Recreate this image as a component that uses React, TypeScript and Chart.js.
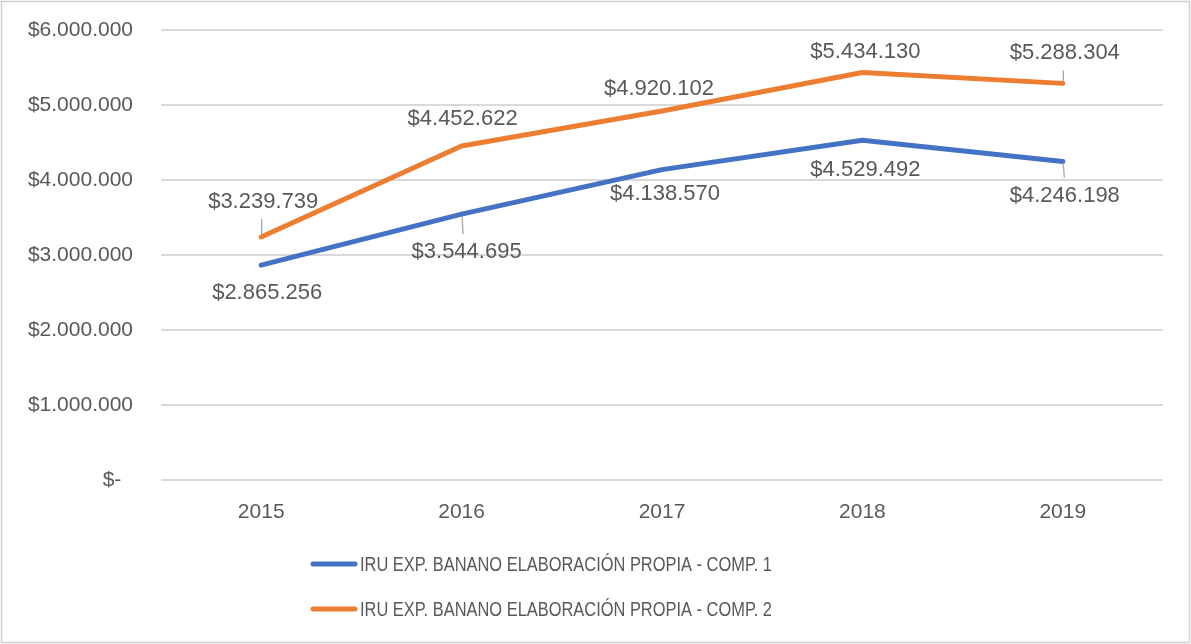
import { useEffect, useRef } from "react";
import { Chart, registerables } from "chart.js";

Chart.register(...registerables);

const years = ["2015", "2016", "2017", "2018", "2019"];
const comp1 = [2865256, 3544695, 4138570, 4529492, 4246198];
const comp2 = [3239739, 4452622, 4920102, 5434130, 5288304];
const seriesNames = [
  "IRU EXP. BANANO ELABORACIÓN PROPIA - COMP. 1",
  "IRU EXP. BANANO ELABORACIÓN PROPIA - COMP. 2",
];
const yMin = 0;
const yMax = 6000000;
const yStep = 1000000;

const BLUE = "#4472C4";
const ORANGE = "#ED7D31";
const TEXT = "#595959";
const GRID = "#d9d9d9";
const FONT = "'Liberation Sans', Arial, sans-serif";

// label placement relative to each point (style config, not data)
const LABEL_LAYOUT = [
  [
    { dx: 6, dy: 28, leader: false },
    { dx: 5, dy: 38, leader: true },
    { dx: 3, dy: 24, leader: false },
    { dx: 3, dy: 30, leader: false },
    { dx: 2, dy: 34, leader: true },
  ],
  [
    { dx: 2, dy: -35, leader: true },
    { dx: 1, dy: -27, leader: false },
    { dx: -3, dy: -22, leader: false },
    { dx: 3, dy: -21, leader: false },
    { dx: 2, dy: -30, leader: true },
  ],
];

const fmt = (v: number) =>
  v === 0
    ? "$-  "
    : "$" + Math.round(v).toString().replace(/\B(?=(\d{3})+(?!\d))/g, ".");

const framePlugin = {
  id: "frame",
  beforeDraw(chart: any) {
    const ctx = chart.ctx;
    ctx.save();
    ctx.fillStyle = "#ffffff";
    ctx.fillRect(0, 0, chart.width, chart.height);
    ctx.restore();
  },
  afterDraw(chart: any) {
    const ctx = chart.ctx;
    ctx.save();
    ctx.strokeStyle = "#d0d0d0";
    ctx.lineWidth = 1.5;
    ctx.strokeRect(1.5, 1.5, chart.width - 3, chart.height - 3);
    ctx.restore();
  },
};

const dataLabelPlugin = {
  id: "dataLabels",
  afterDatasetsDraw(chart: any) {
    const ctx = chart.ctx;
    ctx.save();
    chart.data.datasets.forEach((ds: any, di: number) => {
      const meta = chart.getDatasetMeta(di);
      meta.data.forEach((pt: any, i: number) => {
        const lay = LABEL_LAYOUT[di][i];
        const x = pt.x + lay.dx;
        const y = pt.y + lay.dy;
        if (lay.leader) {
          const above = lay.dy < 0;
          const endY = y + (above ? 17 : -18);
          ctx.beginPath();
          ctx.strokeStyle = "#a6a6a6";
          ctx.lineWidth = 1.3;
          ctx.moveTo(pt.x + 0.5, pt.y + (above ? -2 : 2));
          ctx.lineTo(pt.x + 0.5 + (above ? 0 : 1), endY);
          ctx.stroke();
        }
        ctx.fillStyle = TEXT;
        ctx.font = `22px ${FONT}`;
        ctx.textAlign = "center";
        ctx.textBaseline = "middle";
        ctx.fillText(fmt(ds.data[i]), x, y);
      });
    });
    ctx.restore();
  },
};

const legendPlugin = {
  id: "customLegend",
  afterDraw(chart: any) {
    const ctx = chart.ctx;
    ctx.save();
    chart.data.datasets.forEach((ds: any, di: number) => {
      const y = 564 + di * 45;
      ctx.beginPath();
      ctx.strokeStyle = ds.borderColor;
      ctx.lineWidth = 5;
      ctx.lineCap = "round";
      ctx.moveTo(313, y);
      ctx.lineTo(355, y);
      ctx.stroke();
      ctx.fillStyle = TEXT;
      ctx.font = `20px ${FONT}`;
      ctx.textAlign = "left";
      ctx.textBaseline = "middle";
      ctx.fillText(ds.label, 360, y + 1, 412);
    });
    ctx.restore();
  },
};

export default function App() {
  const canvasRef = useRef<HTMLCanvasElement | null>(null);

  useEffect(() => {
    document.body.style.margin = "0";
    const canvas = canvasRef.current;
    if (!canvas) return;
    const chart = new Chart(canvas, {
      type: "line",
      data: {
        labels: years,
        datasets: [
          {
            label: seriesNames[0],
            data: comp1,
            borderColor: BLUE,
            backgroundColor: BLUE,
            borderWidth: 5,
            pointRadius: 0,
            borderCapStyle: "round",
            borderJoinStyle: "round",
            tension: 0,
          },
          {
            label: seriesNames[1],
            data: comp2,
            borderColor: ORANGE,
            backgroundColor: ORANGE,
            borderWidth: 5,
            pointRadius: 0,
            borderCapStyle: "round",
            borderJoinStyle: "round",
            tension: 0,
          },
        ],
      },
      options: {
        responsive: false,
        animation: false,
        layout: { padding: { left: 0, right: 28, top: 30, bottom: 0 } },
        plugins: {
          legend: { display: false },
          tooltip: { enabled: false },
          title: { display: false },
        },
        scales: {
          x: {
            offset: true,
            grid: { display: false, drawTicks: false },
            border: { display: false },
            ticks: {
              padding: 20,
              color: TEXT,
              font: { family: FONT, size: 21 },
            },
            afterFit: (s: any) => {
              s.height = 164;
              s.paddingLeft = 0;
              s.paddingRight = 0;
            },
          },
          y: {
            min: yMin,
            max: yMax,
            grid: { color: GRID, lineWidth: 2, drawTicks: false },
            border: { display: false },
            ticks: {
              stepSize: yStep,
              padding: 28,
              color: TEXT,
              font: { family: FONT, size: 21 },
              callback: (v: any) => fmt(Number(v)),
            },
            afterFit: (s: any) => {
              s.width = 161;
              s.paddingTop = 0;
              s.paddingBottom = 0;
            },
          },
        },
      },
      plugins: [framePlugin, dataLabelPlugin, legendPlugin],
    });
    return () => chart.destroy();
  }, []);

  return (
    <div style={{ width: 1191, height: 644 }}>
      <canvas ref={canvasRef} width={1191} height={644} />
    </div>
  );
}
